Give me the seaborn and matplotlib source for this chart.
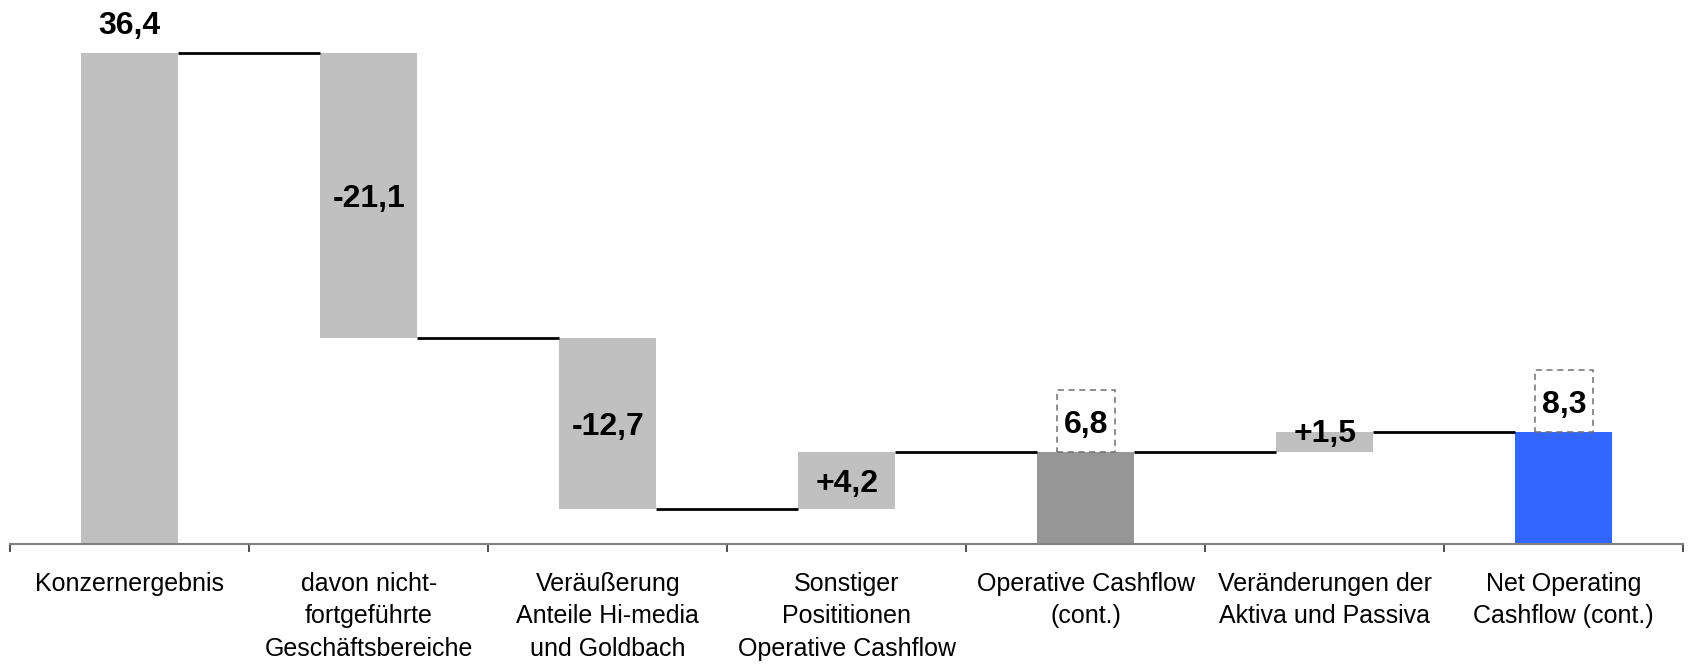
import numpy as np
import pandas as pd
import matplotlib
matplotlib.use("Agg")
import matplotlib.pyplot as plt
from matplotlib.patches import Rectangle
import seaborn as sns

# ---- data ----
categories = [
    "Konzernergebnis",
    "davon nicht-\nfortgeführte\nGeschäftsbereiche",
    "Veräußerung\nAnteile Hi-media\nund Goldbach",
    "Sonstiger\nPosititionen\nOperative Cashflow",
    "Operative Cashflow\n(cont.)",
    "Veränderungen der\nAktiva und Passiva",
    "Net Operating\nCashflow (cont.)",
]
values = [36.4, -21.1, -12.7, 4.2, 6.8, 1.5, 8.3]
kinds = ["total", "delta", "delta", "delta", "total", "delta", "total"]
boxed = [False, False, False, False, True, False, True]
colors = ["#C0C0C0", "#C0C0C0", "#C0C0C0", "#C0C0C0", "#969696", "#C0C0C0", "#3366FF"]

# ---- derived waterfall geometry ----
bottoms, heights, tops = [], [], []
level = 0.0
for v, k in zip(values, kinds):
    if k == "total":
        bottoms.append(0.0); heights.append(v); level = v
    else:
        bottoms.append(level); heights.append(v); level = level + v
    tops.append(level)

def fmt(v, k):
    s = f"{abs(v):.1f}".replace(".", ",")
    if k == "total":
        return s
    return ("+" if v > 0 else "-") + s

df = pd.DataFrame({"cat": categories, "h": heights})

sns.set_theme(style="white")
plt.rcParams["font.family"] = ["Liberation Sans", "DejaVu Sans"]

fig = plt.figure(figsize=(16.88, 6.65), dpi=100)
ax = fig.add_axes([0.0061, 0.182, 0.9911, 0.8105])

bw = 0.405
sns.barplot(data=df, x="cat", y="h", order=categories, ax=ax, width=bw,
            estimator="mean", errorbar=None, color="#C0C0C0", saturation=1,
            bottom=bottoms, facecolor=colors, edgecolor="none", linewidth=0)

ax.set_xlim(-0.5, len(categories) - 0.5)
ax.set_ylim(0, 40)

# connectors
for i in range(len(values) - 1):
    ax.plot([i + bw / 2, i + 1 - bw / 2], [tops[i], tops[i]],
            color="black", lw=2, solid_capstyle="butt", zorder=3)

# labels
box_w, box_h = 0.243, 4.6
fs = 23
for i, (v, k) in enumerate(zip(values, kinds)):
    txt = fmt(v, k)
    if k == "total" and boxed[i]:
        ax.add_patch(Rectangle((i - box_w / 2, tops[i]), box_w, box_h,
                               facecolor="white", edgecolor="#707070",
                               linestyle=(0, (4, 3)), lw=1.1, zorder=4))
        y = tops[i] + box_h / 2
    elif k == "total":
        y = tops[i] + 2.3
    else:
        lo = min(bottoms[i], tops[i]); hi = max(bottoms[i], tops[i])
        y = max((lo + hi) / 2, lo + 1.6)
    ax.annotate(txt, (i, y), xytext=(0, -0.36 * fs), textcoords="offset points",
                ha="center", va="baseline", fontsize=fs,
                fontweight="bold", color="black", zorder=5)

# axes styling
for s in ["top", "right", "left"]:
    ax.spines[s].set_visible(False)
ax.spines["bottom"].set_color("#808080")
ax.spines["bottom"].set_linewidth(1.5)
ax.set_yticks([])
ax.set_ylabel("")
ax.set_xlabel("")
ax.set_xticks(range(len(categories)))
ax.set_xticklabels(categories, fontsize=18, linespacing=1.45, color="black")
ax.tick_params(axis="x", which="major", length=0, pad=20)
ax.set_xticks(np.arange(-0.5, len(categories)), minor=True)
ax.tick_params(axis="x", which="minor", length=6, width=1.2, color="#333333",
               direction="out", bottom=True)
ax.grid(False)

fig.savefig("out.png", dpi=100)
